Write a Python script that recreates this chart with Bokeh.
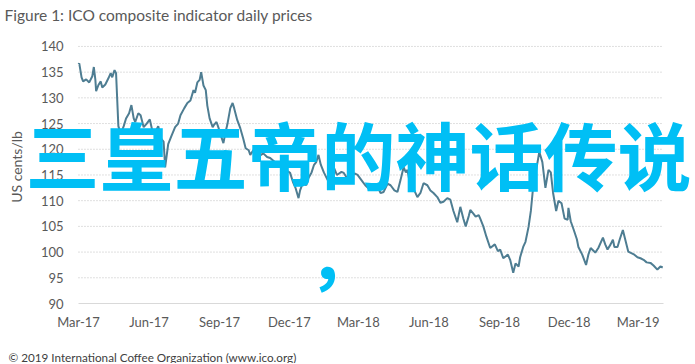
from bokeh.plotting import figure
from bokeh.models import Range1d, FixedTicker, DatetimeTickFormatter, Label, Title, ColumnDataSource
from bokeh.embed import file_html
from bokeh.resources import INLINE
import pandas as pd

title_text = "Figure 1: ICO composite indicator daily prices"
y_label = "US cents/lb"
footer_text = "\u00a9 2019 International Coffee Organization (www.ico.org)"
overlay_text = "三皇五帝的神话传说"
overlay_comma = "，"

dates = [
    "2017-03-01", "2017-03-02", "2017-03-05", "2017-03-07", "2017-03-11", "2017-03-15", "2017-03-19",
    "2017-03-21", "2017-03-23", "2017-03-24", "2017-03-27", "2017-03-30", "2017-04-01", "2017-04-05",
    "2017-04-09", "2017-04-12", "2017-04-14", "2017-04-17", "2017-04-19", "2017-04-22", "2017-04-25",
    "2017-04-29", "2017-05-02", "2017-05-06", "2017-05-09", "2017-05-12", "2017-05-14", "2017-05-18",
    "2017-05-21", "2017-05-25", "2017-05-29", "2017-06-02", "2017-06-05", "2017-06-09", "2017-06-13",
    "2017-06-17", "2017-06-20", "2017-06-22", "2017-06-26", "2017-06-30", "2017-07-05", "2017-07-09",
    "2017-07-12", "2017-07-17", "2017-07-21", "2017-07-25", "2017-07-29", "2017-07-31", "2017-08-03",
    "2017-08-06", "2017-08-08", "2017-08-11", "2017-08-14", "2017-08-16", "2017-08-19", "2017-08-23",
    "2017-08-25", "2017-08-28", "2017-08-31", "2017-09-02", "2017-09-06", "2017-09-09", "2017-09-11",
    "2017-09-15", "2017-09-18", "2017-09-20", "2017-09-24", "2017-09-28", "2017-10-02", "2017-10-05",
    "2017-10-09", "2017-10-11", "2017-10-15", "2017-10-20", "2017-10-24", "2017-10-28", "2017-11-02",
    "2017-11-06", "2017-11-12", "2017-11-15", "2017-11-21", "2017-11-26", "2017-12-02", "2017-12-06",
    "2017-12-09", "2017-12-13", "2017-12-15", "2017-12-19", "2017-12-23", "2017-12-26", "2017-12-30",
    "2018-01-02", "2018-01-05", "2018-01-08", "2018-01-11", "2018-01-15", "2018-01-20", "2018-01-24",
    "2018-01-28", "2018-02-01", "2018-02-07", "2018-02-10", "2018-02-15", "2018-02-19", "2018-02-24",
    "2018-02-28", "2018-03-05", "2018-03-10", "2018-03-17", "2018-03-22", "2018-03-26", "2018-03-30",
    "2018-04-03", "2018-04-08", "2018-04-12", "2018-04-17", "2018-04-21", "2018-04-25", "2018-04-29",
    "2018-05-02", "2018-05-04", "2018-05-08", "2018-05-13", "2018-05-17", "2018-05-21", "2018-05-25",
    "2018-05-30", "2018-06-03", "2018-06-07", "2018-06-12", "2018-06-16", "2018-06-20", "2018-06-25",
    "2018-06-29", "2018-07-03", "2018-07-08", "2018-07-12", "2018-07-16", "2018-07-19", "2018-07-23",
    "2018-07-25", "2018-07-29", "2018-08-01", "2018-08-05", "2018-08-07", "2018-08-11", "2018-08-15",
    "2018-08-20", "2018-08-26", "2018-08-30", "2018-09-02", "2018-09-06", "2018-09-12", "2018-09-15",
    "2018-09-19", "2018-09-22", "2018-09-26", "2018-09-28", "2018-10-02", "2018-10-05", "2018-10-09",
    "2018-10-12", "2018-10-15", "2018-10-19", "2018-10-23", "2018-10-27", "2018-10-31", "2018-11-04",
    "2018-11-07", "2018-11-10", "2018-11-14", "2018-11-17", "2018-11-21", "2018-11-25", "2018-11-29",
    "2018-11-30", "2018-12-03", "2018-12-07", "2018-12-11", "2018-12-13", "2018-12-18", "2018-12-23",
    "2018-12-26", "2018-12-29", "2019-01-02", "2019-01-04", "2019-01-08", "2019-01-14", "2019-01-17",
    "2019-01-20", "2019-01-24", "2019-01-27", "2019-01-29", "2019-02-02", "2019-02-05", "2019-02-09",
    "2019-02-12", "2019-02-16", "2019-02-20", "2019-02-24", "2019-02-28", "2019-03-04", "2019-03-08",
    "2019-03-12", "2019-03-17", "2019-03-21", "2019-03-26", "2019-03-30", "2019-04-02",
]

prices = [
    136.5, 136.7, 134.0, 133.2, 133.6, 133.0, 134.2,
    136.0, 133.5, 131.3, 132.5, 133.2, 132.0, 132.6,
    133.8, 134.8, 134.0, 135.4, 134.8, 124.5, 123.0,
    124.5, 126.0, 127.0, 128.6, 126.0, 125.3, 127.0,
    126.6, 124.3, 125.0, 125.8, 123.8, 123.3, 124.5,
    122.0, 121.5, 116.5, 121.0, 122.5, 124.3, 125.0,
    126.6, 128.0, 129.0, 129.5, 131.5, 131.0, 133.0,
    133.5, 135.0, 132.4, 131.5, 128.5, 126.0, 124.3,
    124.8, 125.3, 124.0, 123.0, 121.2, 123.5, 124.7,
    128.0, 129.0, 128.0, 125.7, 124.1, 122.0, 120.2,
    119.8, 118.9, 119.8, 119.5, 118.8, 119.2, 118.5,
    118.3, 117.5, 116.9, 117.4, 116.0, 115.4, 113.5,
    112.5, 110.5, 112.0, 113.6, 113.0, 114.4, 115.5,
    116.9, 117.5, 118.9, 117.0, 115.5, 114.0, 115.0,
    116.5, 115.0, 115.6, 115.4, 114.2, 114.6, 115.3,
    115.0, 114.0, 113.0, 112.0, 113.2, 112.7, 111.5,
    111.7, 113.3, 113.0, 112.0, 111.7, 114.0, 116.5,
    115.5, 116.0, 112.7, 112.0, 110.7, 111.5, 113.4,
    113.0, 112.0, 111.5, 110.7, 109.6, 109.8, 110.5,
    110.2, 108.0, 105.8, 108.8, 106.5, 105.0, 107.0,
    108.2, 107.5, 106.9, 107.2, 106.5, 105.0, 103.0,
    100.8, 101.5, 100.2, 100.5, 98.8, 99.5, 98.5,
    96.0, 97.8, 97.2, 99.0, 101.0, 102.0, 104.9,
    108.0, 112.7, 116.0, 119.5, 117.5, 112.5, 116.0,
    115.5, 111.5, 108.0, 110.0, 109.5, 106.5, 106.3,
    108.6, 106.0, 104.3, 102.5, 101.0, 99.5, 97.5,
    99.5, 100.8, 100.2, 99.9, 100.8, 102.8, 101.5,
    100.5, 101.5, 102.4, 101.0, 101.0, 102.5, 104.3,
    102.5, 100.1, 99.8, 99.5, 99.0, 98.8, 98.5,
    98.0, 97.9, 97.4, 96.6, 97.2, 97.0,
]

x_tick_dates = ["2017-03-01", "2017-06-01", "2017-09-01", "2017-12-01", "2018-03-01",
                "2018-06-01", "2018-09-01", "2018-12-01", "2019-03-01"]
x_tick_labels = ["Mar-17", "Jun-17", "Sep-17", "Dec-17", "Mar-18",
                 "Jun-18", "Sep-18", "Dec-18", "Mar-19"]
y_ticks = [90, 95, 100, 105, 110, 115, 120, 125, 130, 135, 140]

x_start = "2017-03-01"
x_end = "2019-04-03"


def to_ms(d):
    return float(pd.Timestamp(d).value // 10**6)


# ---- layout (pixels) ----
W, H = 694, 363
PL, PR, PT, PB = 78, 663, 46, 304   # plotting area of the chart
FL, FT = 20, 30                      # frame left / top (frame reaches right edge)
FR, FB = W, PB

t0, t1 = pd.Timestamp(x_start), pd.Timestamp(x_end)
per_px = (t1 - t0) / (PR - PL)
x_range = Range1d(t0 - (PL - FL) * per_px, t1 + (FR - PR) * per_px)
px_per_unit = (PB - PT) / (max(y_ticks) - min(y_ticks))
y_range = Range1d(min(y_ticks), max(y_ticks) + (PT - FT) / px_per_unit)

src = ColumnDataSource(dict(date=pd.to_datetime(dates), price=prices))

p = figure(width=W, height=H, x_axis_type="datetime", x_range=x_range, y_range=y_range,
           output_backend="svg", toolbar_location=None,
           min_border_left=FL, min_border_right=0, min_border_top=FT, min_border_bottom=H - FB)
p.outline_line_color = None
p.background_fill_color = "white"
p.border_fill_color = "white"
p.xgrid.visible = False
p.ygrid.visible = False

# dotted horizontal gridlines across the plotting period
grid_vals = [v for v in y_ticks if v != min(y_ticks)]
p.segment(x0=[t0] * len(grid_vals), x1=[t1] * len(grid_vals), y0=grid_vals, y1=grid_vals,
          line_color="#bfbfbf", line_width=1, line_dash="1 2")

p.line(x="date", y="price", source=src, line_color="#4e7d92", line_width=2)

tick_ms = [to_ms(d) for d in x_tick_dates]
p.xaxis.ticker = FixedTicker(ticks=tick_ms)
p.xaxis.formatter = DatetimeTickFormatter(days="%b-%y", months="%b-%y", years="%b-%y")
p.xaxis.major_label_overrides = {t: lab for t, lab in zip(tick_ms, x_tick_labels)}
p.xaxis.bounds = (to_ms(x_start), to_ms(x_end))
p.yaxis.ticker = FixedTicker(ticks=y_ticks)

for ax in (p.xaxis[0], p.yaxis[0]):
    ax.major_tick_line_color = None
    ax.minor_tick_line_color = None
    ax.major_tick_out = 0
    ax.major_tick_in = 0
    ax.major_label_text_font = "Lato"
    ax.major_label_text_font_size = "13px"
    ax.major_label_text_color = "#595959"

p.xaxis.axis_line_color = "#d9d9d9"
p.xaxis.axis_line_width = 1
p.xaxis.major_label_standoff = 10
# invisible spacer label that pushes the footer down
p.xaxis.axis_label = "\u00a0"
p.xaxis.axis_label_text_font_size = "1px"
p.xaxis.axis_label_standoff = 11

p.yaxis.axis_line_color = None
p.yaxis.major_label_standoff = -(63 - FL)
p.yaxis.axis_label = y_label
p.yaxis.axis_label_text_font = "Lato"
p.yaxis.axis_label_text_font_size = "14px"
p.yaxis.axis_label_text_font_style = "normal"
p.yaxis.axis_label_text_color = "#595959"
p.yaxis.axis_label_standoff = 13

# title and footer
p.add_layout(Title(text=title_text, align="left", offset=4 - FL, vertical_align="top",
                   text_font="Lato", text_font_size="15.5px", text_font_style="normal",
                   text_color="#595959"), "above")
p.add_layout(Title(text=footer_text, align="left", offset=8 - FL, vertical_align="bottom",
                   standoff=0, text_font="Lato", text_font_size="11.7px",
                   text_font_style="normal", text_color="#404040"), "below")

# overlay text (screen units relative to frame bottom-left)
p.add_layout(Label(x=25 - FL, y=FB - 153, x_units="screen", y_units="screen",
                   text=overlay_text, text_font="Noto Sans CJK SC", text_font_size="74px",
                   text_font_style="bold", text_color="#00bff5",
                   text_baseline="middle", text_align="left"))
p.add_layout(Label(x=308 - FL, y=FB - 254, x_units="screen", y_units="screen",
                   text=overlay_comma, text_font="Noto Sans CJK SC", text_font_size="68px",
                   text_font_style="bold", text_color="#00bff5",
                   text_baseline="middle", text_align="left"))

open("out.html", "w").write(file_html(p, INLINE))
